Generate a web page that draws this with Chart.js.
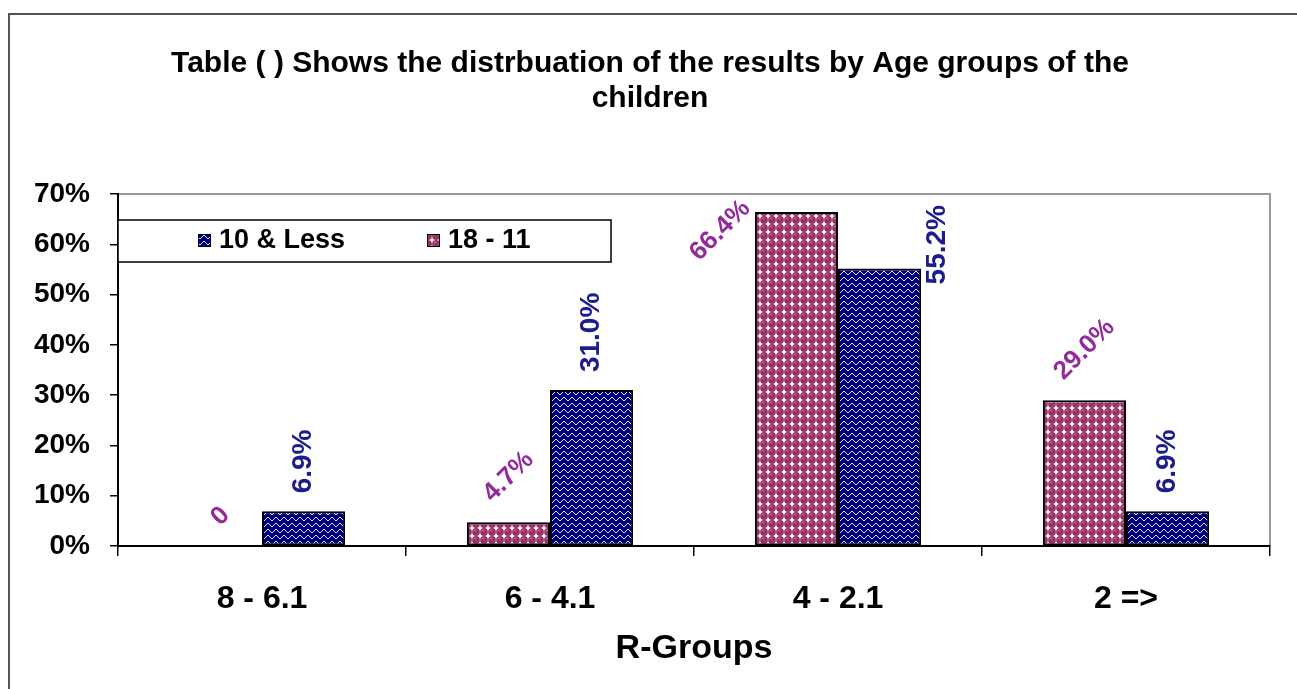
<!DOCTYPE html>
<html>
<head>
<meta charset="utf-8">
<script src="https://cdn.jsdelivr.net/npm/chart.js@4/dist/chart.umd.min.js"></script>
<style>
body{margin:0;background:#fff;}
canvas{display:block;}
</style>
</head>
<body>
<canvas id="GraficoEdades" width="1297" height="689"></canvas>
<script>
// datos del grafico
var categorias = ['8 - 6.1', '6 - 4.1', '4 - 2.1', '2 =>'];
var serie18a11 = [0, 4.7, 66.4, 29.0];
var serie10Menos = [6.9, 31.0, 55.2, 6.9];
var nombresSeries = ['18 - 11', '10 & Less'];
var ejeY = {min: 0, max: 70, paso: 10};

var fuente = '"Liberation Sans", Arial, sans-serif';

// formato de las etiquetas de valor
function formato(v){
	return v === 0 ? '0' : v.toFixed(1) + '%';
}

var lienzo = document.getElementById('GraficoEdades');
var ctxG = lienzo.getContext('2d');

// tramas de relleno (estilo Excel)
function tramaRosa(){
	var c = document.createElement('canvas'); c.width = 8; c.height = 8;
	var g = c.getContext('2d');
	g.fillStyle = '#ffffff'; g.fillRect(0, 0, 8, 8);
	g.fillStyle = '#993366';
	g.beginPath(); g.arc(4, 4, 3.9, 0, 2 * Math.PI); g.fill();
	g.fillStyle = '#c98aa8'; g.fillRect(2, 2, 2, 1);
	return ctxG.createPattern(c, 'repeat');
}
function tramaAzul(){
	var c = document.createElement('canvas'); c.width = 8; c.height = 6;
	var g = c.getContext('2d');
	g.fillStyle = '#000080'; g.fillRect(0, 0, 8, 6);
	g.fillStyle = '#e0e0ff';
	var pts = [[0,4],[1,3],[2,2],[3,1],[4,1],[5,2],[6,3],[7,4]];
	pts.forEach(function(p){ g.fillRect(p[0], p[1], 1, 1); });
	return ctxG.createPattern(c, 'repeat');
}

// marco exterior y borde gris del area de trazado
var marcoPlugin = {
	id: 'marco',
	beforeDraw: function(chart){
		var ctx = chart.ctx;
		ctx.save();
		ctx.strokeStyle = '#555555'; ctx.lineWidth = 2;
		ctx.beginPath();
		ctx.moveTo(9, 689); ctx.lineTo(9, 14); ctx.lineTo(1297, 14);
		ctx.stroke();
		var a = chart.chartArea;
		ctx.strokeStyle = '#999999'; ctx.lineWidth = 2;
		ctx.beginPath();
		ctx.moveTo(a.left, a.top); ctx.lineTo(a.right, a.top); ctx.lineTo(a.right, a.bottom);
		ctx.stroke();
		ctx.restore();
	}
};

// etiquetas de valor giradas
var etiquetasPlugin = {
	id: 'etiquetas',
	afterDatasetsDraw: function(chart){
		var ctx = chart.ctx, area = chart.chartArea;
		chart.data.datasets.forEach(function(ds, i){
			var meta = chart.getDatasetMeta(i);
			meta.data.forEach(function(bar, j){
				var txt = formato(ds.data[j]);
				ctx.save();
				ctx.font = 'bold ' + ds.tamEtiqueta + 'px ' + fuente;
				ctx.fillStyle = ds.colorEtiqueta;
				var w = ctx.measureText(txt).width, h = ds.tamEtiqueta * 0.72;
				var rad = ds.anguloEtiqueta * Math.PI / 180;
				var bw = Math.abs(w * Math.cos(rad)) + Math.abs(h * Math.sin(rad));
				var bh = Math.abs(w * Math.sin(rad)) + Math.abs(h * Math.cos(rad));
				var cx = bar.x, cy = bar.y - 18 - bh / 2;
				if (cy - bh / 2 < area.top + ds.margenSup) {
					cy = area.top + ds.margenSup + bh / 2;
					if (ds.ladoEtiqueta < 0) cx = bar.x - bar.width / 2 - bw / 2 - 2;
					else cx = bar.x + bar.width / 2 + bw / 2 + 6;
				}
				ctx.translate(cx, cy);
				ctx.rotate(-rad);
				ctx.textAlign = 'center';
				ctx.textBaseline = 'middle';
				ctx.fillText(txt, 0, 0);
				ctx.restore();
			});
		});
	}
};

// leyenda dentro del area de trazado
var leyendaPlugin = {
	id: 'leyenda',
	afterDraw: function(chart){
		var ctx = chart.ctx, a = chart.chartArea;
		var x = a.left, y = a.top + 26, w = 493, h = 42;
		ctx.save();
		ctx.fillStyle = '#ffffff'; ctx.fillRect(x, y, w, h);
		ctx.strokeStyle = '#000000'; ctx.lineWidth = 1.5; ctx.strokeRect(x, y, w, h);
		var orden = [1, 0];
		var posX = [198, 427];
		ctx.font = 'bold 27px ' + fuente;
		ctx.textBaseline = 'middle';
		ctx.textAlign = 'left';
		orden.forEach(function(k, n){
			var ds = chart.data.datasets[k];
			ctx.fillStyle = ds.backgroundColor;
			ctx.fillRect(posX[n], y + 14, 13, 13);
			ctx.strokeStyle = '#000'; ctx.lineWidth = 1;
			ctx.strokeRect(posX[n] + 0.5, y + 14.5, 12, 12);
			ctx.fillStyle = '#000';
			ctx.fillText(ds.label, posX[n] + 21, y + 21);
		});
		ctx.restore();
	}
};

var myChartEdades = new Chart(lienzo, {
	type: 'bar',
	data: {
		labels: categorias,
		datasets: [{
			label: nombresSeries[0],
			data: serie18a11,
			backgroundColor: tramaRosa(),
			borderColor: '#000000',
			borderWidth: 2,
			borderSkipped: false,
			colorEtiqueta: '#93299a',
			tamEtiqueta: 26,
			anguloEtiqueta: 45,
			ladoEtiqueta: -1,
			margenSup: 4
		}, {
			label: nombresSeries[1],
			data: serie10Menos,
			backgroundColor: tramaAzul(),
			borderColor: '#000000',
			borderWidth: 2,
			borderSkipped: false,
			colorEtiqueta: '#1c1c8c',
			tamEtiqueta: 28,
			anguloEtiqueta: 90,
			ladoEtiqueta: 1,
			margenSup: 11
		}]
	},
	options: {
		responsive: false,
		animation: false,
		devicePixelRatio: 1,
		layout: { padding: { left: 30, right: 27, top: 0, bottom: 0 } },
		datasets: { bar: { categoryPercentage: 0.577, barPercentage: 1.0 } },
		plugins: {
			legend: { display: false },
			tooltip: { enabled: false },
			title: {
				display: true,
				text: ['Table ( ) Shows the distrbuation of the results by Age groups of the', 'children'],
				color: '#000000',
				font: { family: fuente, size: 30, weight: 'bold', lineHeight: 1.1667 },
				padding: { top: 46, bottom: 78 }
			}
		},
		scales: {
			x: {
				grid: { offset: true, drawOnChartArea: false, tickLength: 10, color: '#000000', lineWidth: 1.5 },
				border: { color: '#000000', width: 2 },
				ticks: { color: '#000000', padding: 24, font: { family: fuente, size: 32, weight: 'bold' } },
				title: {
					display: true, text: 'R-Groups', color: '#000000',
					font: { family: fuente, size: 34, weight: 'bold', lineHeight: 1.2 },
					padding: { top: 0, bottom: 20 }
				},
				afterFit: function(s){ s.height = 143; }
			},
			y: {
				min: ejeY.min, max: ejeY.max,
				grid: { drawOnChartArea: false, tickLength: 8, color: '#000000', lineWidth: 1.5 },
				border: { color: '#000000', width: 2 },
				ticks: {
					stepSize: ejeY.paso, color: '#000000', padding: 20,
					font: { family: fuente, size: 28, weight: 'bold' },
					callback: function(v){ return v + '%'; }
				},
				afterFit: function(s){ s.width = 88; }
			}
		}
	},
	plugins: [marcoPlugin, etiquetasPlugin, leyendaPlugin]
});
</script>
</body>
</html>
